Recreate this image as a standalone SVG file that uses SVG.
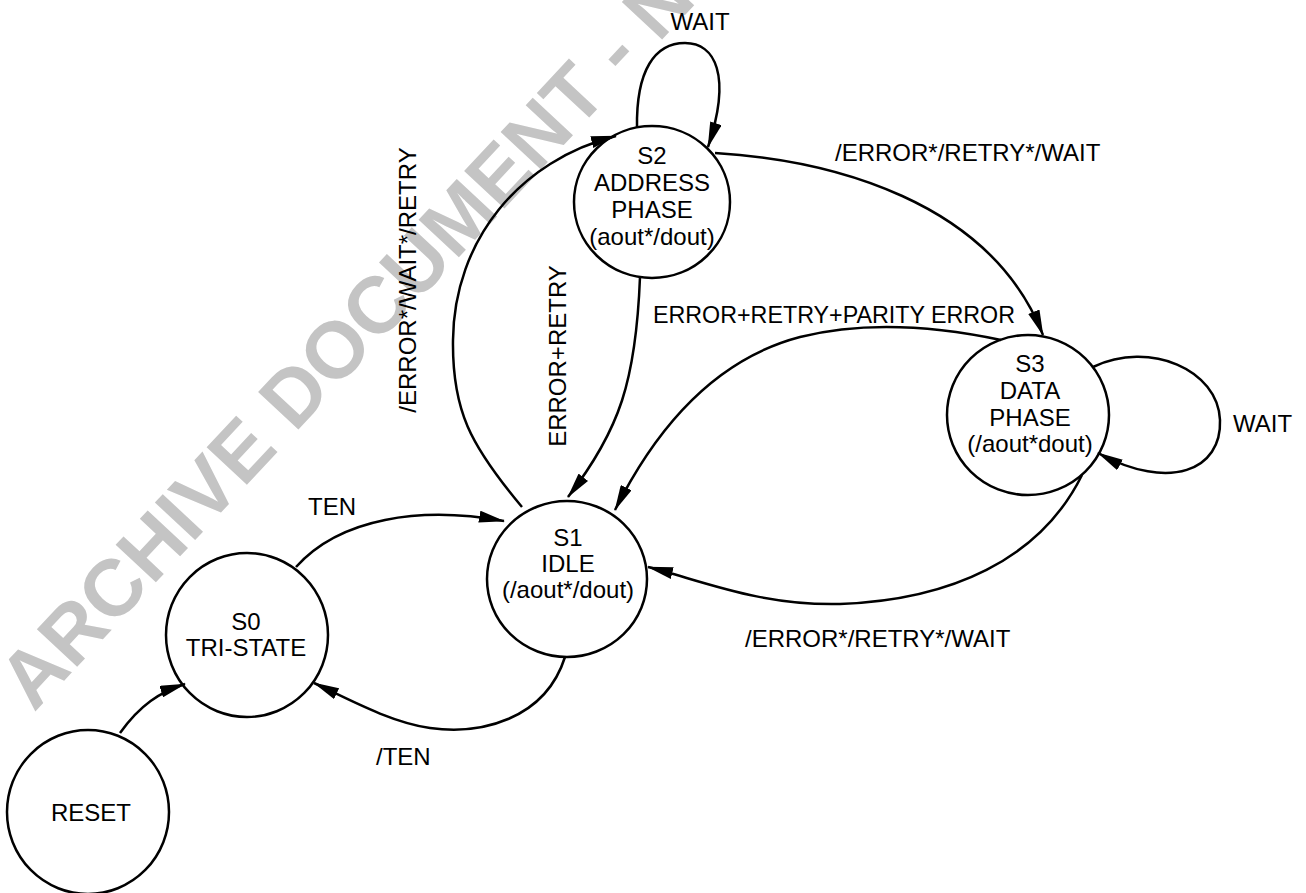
<svg xmlns="http://www.w3.org/2000/svg" width="1306" height="893" viewBox="0 0 1306 893">
<style>
.shape{fill:none;stroke:#000;stroke-width:2.5}
.edge{fill:none;stroke:#000;stroke-width:2.5}
.t{font-family:"Liberation Sans",Arial,sans-serif;font-size:24px;fill:#000}
.c{text-anchor:middle}
.wm{font-family:"Liberation Sans",Arial,sans-serif;font-size:80px;font-weight:bold;fill:#c4c4c4}
</style>
<defs>
<marker id="arr" viewBox="0 0 26 12" refX="25" refY="6" markerWidth="26" markerHeight="12" markerUnits="userSpaceOnUse" orient="auto">
<path d="M0,0 L26,6 L0,12 z" fill="#000"/>
</marker>
</defs>
<rect width="1306" height="893" fill="#fff"/>
<text class="wm" transform="translate(34,713) rotate(-47)">ARCHIVE DOCUMENT - NO</text>

<g id="edges">
<path class="edge" marker-end="url(#arr)" d="M120,733 C140,705 160,692 185,684"/>
<path class="edge" marker-end="url(#arr)" d="M296,567 C340,518 420,506 504,521"/>
<path class="edge" marker-end="url(#arr)" d="M565,657 C545,720 480,735 430,728 C390,722 350,700 314,683"/>
<path class="edge" marker-end="url(#arr)" d="M522,507 C470,445 452,410 453,340 C454,240 520,160 616,136"/>
<path class="edge" marker-end="url(#arr)" d="M640,277 C636,380 620,430 568,497"/>
<path class="edge" marker-end="url(#arr)" d="M715,153 C830,160 990,200 1043,335"/>
<path class="edge" marker-end="url(#arr)" d="M1001,340 C930,325 860,322 800,337 C720,358 660,420 615,510"/>
<path class="edge" marker-end="url(#arr)" d="M1082,475 C1040,560 950,600 840,604 C760,606 700,580 648,567"/>
<path class="edge" marker-end="url(#arr)" d="M637,128 C636,70 655,43 685,43 C715,43 732,75 708,147"/>
<path class="edge" marker-end="url(#arr)" d="M1093,367 C1150,340 1218,370 1220,420 C1222,470 1170,492 1098,453"/>
<text class="t c" x="700" y="30">WAIT</text>
<text class="t" x="1233" y="432">WAIT</text>
<text class="t" x="835" y="161">/ERROR*/RETRY*/WAIT</text>
<text class="t" x="653" y="323" textLength="362" lengthAdjust="spacingAndGlyphs">ERROR+RETRY+PARITY ERROR</text>
<text class="t" x="745" y="647">/ERROR*/RETRY*/WAIT</text>
<text class="t" x="308" y="515">TEN</text>
<text class="t" x="376" y="765">/TEN</text>
<text class="t c" transform="translate(416,280) rotate(-90)">/ERROR*/WAIT*/RETRY</text>
<text class="t c" font-size="23" transform="translate(566,356) rotate(-90)">ERROR+RETRY</text>
</g>

<g id="reset">
<ellipse class="shape" cx="88" cy="812" rx="81" ry="82"/>
<text class="t c" x="91" y="821">RESET</text>
</g>
<g id="s0">
<ellipse class="shape" cx="247" cy="635" rx="81" ry="82"/>
<text class="t c" x="246" y="630">S0</text>
<text class="t c" x="246" y="656">TRI-STATE</text>
</g>
<g id="s1">
<ellipse class="shape" cx="567" cy="579" rx="80" ry="78"/>
<text class="t c" x="568" y="546">S1</text>
<text class="t c" x="568" y="572">IDLE</text>
<text class="t c" x="568" y="598">(/aout*/dout)</text>
</g>
<g id="s2">
<ellipse class="shape" cx="652" cy="202" rx="78" ry="76"/>
<text class="t c" x="652" y="164">S2</text>
<text class="t c" x="652" y="191">ADDRESS</text>
<text class="t c" x="652" y="218">PHASE</text>
<text class="t c" x="652" y="245">(aout*/dout)</text>
</g>
<g id="s3">
<ellipse class="shape" cx="1028" cy="415" rx="81" ry="80"/>
<text class="t c" x="1030" y="372">S3</text>
<text class="t c" x="1030" y="399">DATA</text>
<text class="t c" x="1030" y="426">PHASE</text>
<text class="t c" x="1030" y="452">(/aout*dout)</text>
</g>
</svg>
